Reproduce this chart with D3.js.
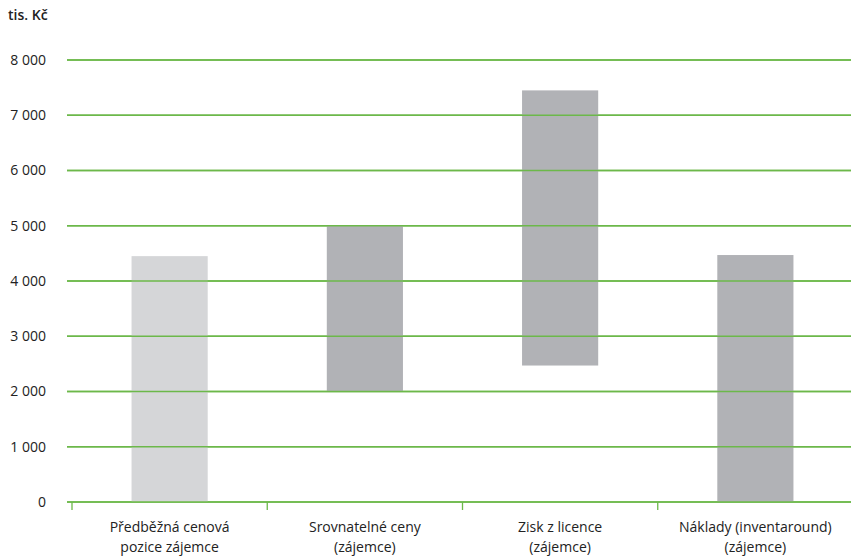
<!DOCTYPE html>
<html>
<head>
<meta charset="utf-8">
<script src="https://cdn.jsdelivr.net/npm/d3@7"></script>
<style>
  body { margin: 0; background: #fff; }
  svg { display: block; font-family: "Open Sans", "Noto Sans", sans-serif; }
</style>
</head>
<body>
<svg id="chart" width="851" height="558"></svg>
<script>
// Range of each estimate (tis. Kč): low and high end of the floating bar
const categories = [
  ["Předběžná cenová", "pozice zájemce"],
  ["Srovnatelné ceny", "(zájemce)"],
  ["Zisk z licence", "(zájemce)"],
  ["Náklady (inventaround)", "(zájemce)"]
];
const lowValues  = [0, 2000, 2470, 0];
const highValues = [4450, 5000, 7450, 4470];
const barColors  = ["#d5d6d8", "#b1b2b6", "#b1b2b6", "#b1b2b6"];
const yTicks = [0, 1000, 2000, 3000, 4000, 5000, 6000, 7000, 8000];
const unitLabel = "tis. Kč";

const svg = d3.select("#chart");
const margin = { left: 72, right: -2, top: 60, bottom: 56 };
const W = 851, H = 558;
const gridStart = 67;

const x = d3.scaleBand()
  .domain(d3.range(categories.length))
  .range([margin.left, W - margin.right])
  .paddingInner(0).paddingOuter(0);

const y = d3.scaleLinear()
  .domain([0, 8000])
  .range([H - margin.bottom - 0, margin.top]);

const fmt = v => d3.format(",")(v).replace(/,/g, " ");

// horizontal grid lines
svg.append("g").selectAll("line")
  .data(yTicks)
  .join("line")
  .attr("x1", gridStart).attr("x2", W)
  .attr("y1", d => y(d)).attr("y2", d => y(d))
  .attr("stroke", "#6cb84a")
  .attr("stroke-width", 1.3);

// y labels
svg.append("g").selectAll("text")
  .data(yTicks)
  .join("text")
  .attr("x", 46).attr("y", d => y(d))
  .attr("dy", "0.35em")
  .attr("text-anchor", "end")
  .attr("font-size", 14)
  .attr("fill", "#222")
  .text(fmt);

svg.append("text")
  .attr("x", 8).attr("y", 15).attr("dy", "0.35em")
  .attr("font-size", 14).attr("font-weight", 600)
  .attr("fill", "#222")
  .text(unitLabel);

// floating bars
const barW = x.bandwidth() * 0.39;
svg.append("g").selectAll("rect")
  .data(categories.map((c, i) => i))
  .join("rect")
  .attr("x", i => x(i) + x.bandwidth() / 2 - barW / 2)
  .attr("width", barW)
  .attr("y", i => y(highValues[i]))
  .attr("height", i => y(lowValues[i]) - y(highValues[i]))
  .attr("fill", i => barColors[i]);

// redraw grid over bars (lines run across the bars)
svg.append("g").selectAll("line")
  .data(yTicks)
  .join("line")
  .attr("x1", gridStart).attr("x2", W)
  .attr("y1", d => y(d)).attr("y2", d => y(d))
  .attr("stroke", "#6cb84a")
  .attr("stroke-width", 1.3);

// category boundary ticks
svg.append("g").selectAll("line")
  .data(d3.range(categories.length + 1))
  .join("line")
  .attr("x1", i => margin.left + i * x.bandwidth())
  .attr("x2", i => margin.left + i * x.bandwidth())
  .attr("y1", y(0)).attr("y2", y(0) + 8)
  .attr("stroke", "#6cb84a")
  .attr("stroke-width", 1.3);

// category labels
const lab = svg.append("g").selectAll("text")
  .data(categories)
  .join("text")
  .attr("text-anchor", "middle")
  .attr("font-size", 14)
  .attr("fill", "#222");
lab.each(function(lines, i) {
  const t = d3.select(this);
  lines.forEach((ln, k) => {
    t.append("tspan")
      .attr("x", x(i) + x.bandwidth() / 2)
      .attr("y", 527 + k * 20)
      .attr("dy", "0.35em")
      .text(ln);
  });
});
</script>
</body>
</html>
